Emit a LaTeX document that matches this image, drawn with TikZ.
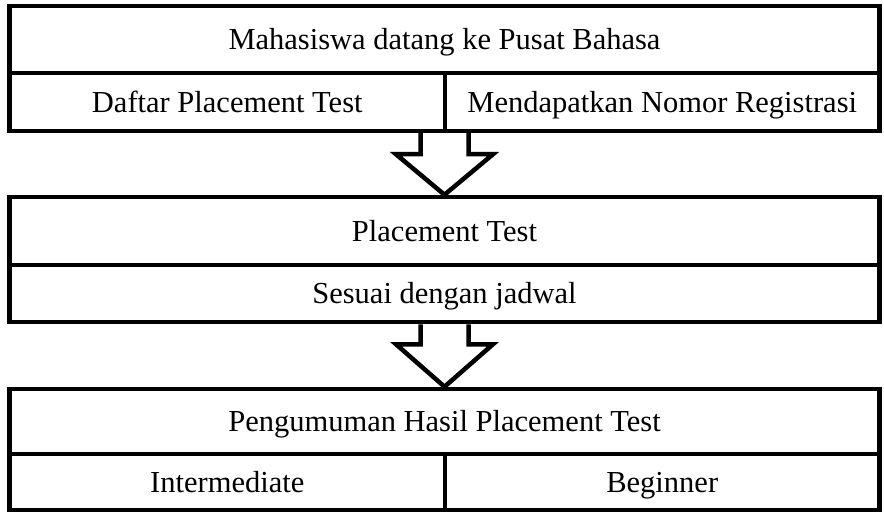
\documentclass[tikz,border=0pt]{standalone}
\usepackage{fontspec}
\setmainfont{Liberation Serif}
\usetikzlibrary{calc}
\tikzset{
  cell/.style={draw=black, line width=4.5pt, rectangle, inner sep=0pt,
    font=\fontsize{30.5}{34}\selectfont, text height=20.2pt, text depth=0pt},
  blockarrow/.style={draw=black, line width=4.5pt, line join=miter, fill=white},
}
\begin{document}
\begin{tikzpicture}[x=1pt, y=-1pt]
\useasboundingbox (0,0) rectangle (884,513);
\fill[white] (0,0) rectangle (884,513);
% block 1
\node[cell, minimum width=870pt, minimum height=67pt] (mah) at (444.5,39.5) {Mahasiswa datang ke Pusat Bahasa};
\node[cell, minimum width=435.5pt, minimum height=58pt] (daf) at (227.25,102) {Daftar Placement Test};
\node[cell, minimum width=434.5pt, minimum height=58pt] (men) at (662.25,102) {Mendapatkan Nomor Registrasi};
% block 2
\node[cell, minimum width=870pt, minimum height=68pt] (pt) at (444.5,231) {Placement Test};
\node[cell, minimum width=870pt, minimum height=57pt] (ses) at (444.5,293.5) {Sesuai dengan jadwal};
% block 3
\node[cell, minimum width=870pt, minimum height=65pt] (peng) at (444.5,421.5) {Pengumuman Hasil Placement Test};
\node[cell, minimum width=435.5pt, minimum height=56pt] (int) at (227.25,482) {Intermediate};
\node[cell, minimum width=434.5pt, minimum height=56pt] (beg) at (662.25,482) {Beginner};
% arrows
\coordinate (a1) at (pt.north |- daf.south);
\draw[blockarrow] ($(a1)+(-24,0)$) -- ++(0,21) -- ++(-24.5,0) -- (pt.north) -- ($(a1)+(48.5,21)$) -- ++(-24.5,0) -- ($(a1)+(24,0)$);
\coordinate (a2) at (ses.south);
\draw[blockarrow] ($(a2)+(-24,0)$) -- ++(0,20) -- ++(-24.5,0) -- (peng.north) -- ($(a2)+(48.5,20)$) -- ++(-24.5,0) -- ($(a2)+(24,0)$);
\end{tikzpicture}
\end{document}
